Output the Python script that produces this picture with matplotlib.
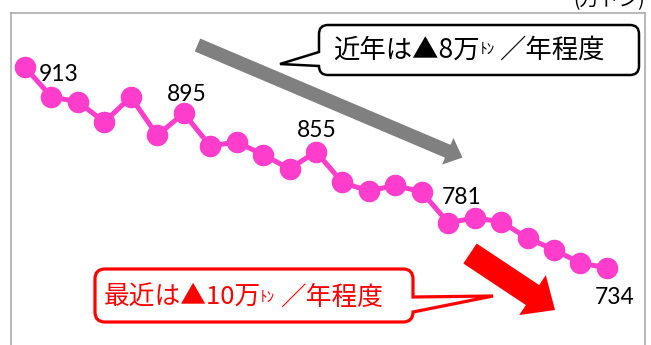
import numpy as np
import matplotlib
matplotlib.use("Agg")
import matplotlib.pyplot as plt
from matplotlib.path import Path
from matplotlib.patches import PathPatch, FancyArrow

plt.rcParams['font.family'] = ['Noto Sans CJK JP', 'DejaVu Sans']

# demand (万トン)
demand = [943, 912, 907, 886, 912, 872, 895, 861, 865, 852, 837, 855,
          823, 814, 820, 813, 781, 786, 782, 765, 753, 739, 734]
label_idx = [0, 6, 11, 16, 22]
label_txt = ['913', '895', '855', '781', '734']
label_off = [(34, -7), (3, 19), (1, 21), (13, 25), (8, -30)]   # pixels

unit_txt = '(万トン)'
note_recent = ['近年は▲8万', 'ﾄﾝ', '／年程度']
note_latest = ['最近は▲10万', 'ﾄﾝ', '／年程度']

W, H = 651, 345
fig = plt.figure(figsize=(W / 100, H / 100), dpi=100)

# main plot area (bottom runs off the picture)
top_px, bot_px = 12.5, 396.5
ax = fig.add_axes([11 / W, (H - bot_px) / H, 634 / W, (bot_px - top_px) / H])
x = np.arange(len(demand))
ax.plot(x, demand, '-o', color='#ff3dcc', lw=3.6, ms=14.5, zorder=3)
ax.set_xlim(-0.53, 23.44)
ax.set_ylim(600, 1000)
ax.set_xticks([])
ax.set_yticks([])
for s in ['left', 'top', 'right']:
    ax.spines[s].set_color('#a6a6a6')
    ax.spines[s].set_linewidth(1.1)
ax.spines['bottom'].set_visible(False)

for i, t, off in zip(label_idx, label_txt, label_off):
    ax.annotate(t, (x[i], demand[i]), xytext=off, textcoords='offset pixels',
                ha='center', va='center', fontsize=16.5, family=['Lato', 'DejaVu Sans'],
                color='black', zorder=4)

# overlay in pixel coordinates for callouts and arrows
ov = fig.add_axes([0, 0, 1, 1], zorder=5)
ov.set_xlim(0, W)
ov.set_ylim(H, 0)
ov.axis('off')
ov.patch.set_alpha(0)


def bubble(x0, y0, x1, y1, r, side, ya, yb, tip, ec, lw):
    M, L, C = Path.MOVETO, Path.LINETO, Path.CURVE3
    v = [(x0 + r, y0), (x1 - r, y0), (x1, y0), (x1, y0 + r)]
    c = [M, L, C, C]
    if side == 'right':
        v += [(x1, ya), tip, (x1, yb)]
        c += [L, L, L]
    v += [(x1, y1 - r), (x1, y1), (x1 - r, y1), (x0 + r, y1), (x0, y1), (x0, y1 - r)]
    c += [L, C, C, L, C, C]
    if side == 'left':
        v += [(x0, yb), tip, (x0, ya)]
        c += [L, L, L]
    v += [(x0, y0 + r), (x0, y0), (x0 + r, y0), (x0 + r, y0)]
    c += [L, C, C, Path.CLOSEPOLY]
    ov.add_patch(PathPatch(Path(v, c), fc='white', ec=ec, lw=lw, joinstyle='miter'))


# trend arrows
ov.add_patch(FancyArrow(197.5, 45, 265, 112.5, width=14, head_width=29, head_length=16,
                        length_includes_head=True, color='#808080', lw=0))
ov.add_patch(FancyArrow(470, 253.5, 85, 56.5, width=24, head_width=48, head_length=27,
                        length_includes_head=True, color='#ff0000', lw=0))

bubble(319, 25, 639, 75, 9, 'left', 52, 66, (280, 64), 'black', 1.8)
bubble(95, 269, 413, 322, 10, 'right', 297, 312, (493, 296), '#ff0000', 2.3)

ov.text(333, 50, note_recent[0], ha='left', va='center', fontsize=19, color='black')
ov.text(480, 49, note_recent[1], ha='left', va='center', fontsize=11, color='black')
ov.text(499, 50, note_recent[2], ha='left', va='center', fontsize=19, color='black')

ov.text(104, 298, note_latest[0], ha='left', va='center', fontsize=18.5, color='#ff0000')
ov.text(260, 297, note_latest[1], ha='left', va='center', fontsize=11, color='#ff0000')
ov.text(280, 298, note_latest[2], ha='left', va='center', fontsize=18.5, color='#ff0000')

ov.text(645, 11, unit_txt, ha='right', va='bottom', fontsize=14, color='black')

fig.savefig('out.png', dpi=100)
